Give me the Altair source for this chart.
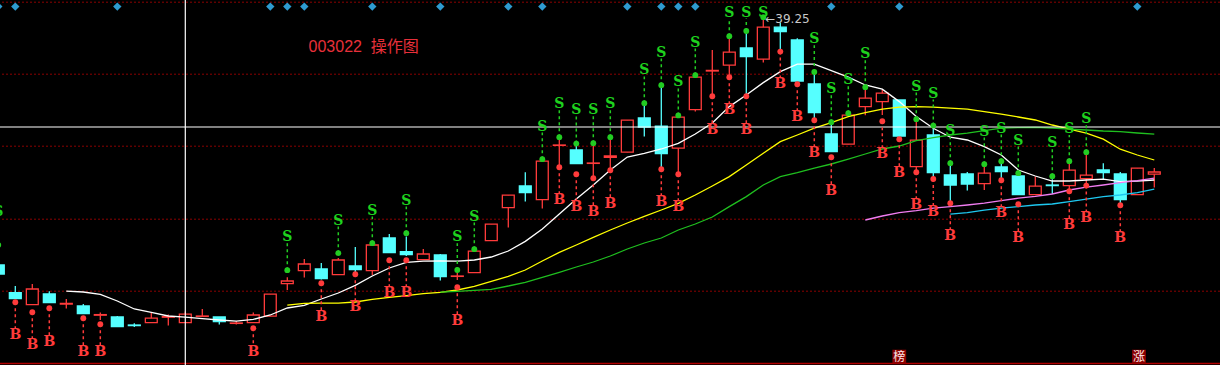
import altair as alt
import pandas as pd

# ---------------- data ----------------
IDX = list(range(-1, 68))
OPEN = [26.95, 25.57, 24.97, 25.50, 25.00, 24.90, 24.44, 24.35, 23.95, 24.07,
        24.34, 24.07, 24.38, 24.35, 24.03, 24.07, 24.39, 26.02, 26.67, 26.75,
        26.47, 26.90, 26.67, 28.30, 27.62, 27.22, 27.45, 26.38, 26.57, 28.17,
        29.82, 30.90, 30.22, 32.93, 32.70, 32.03, 32.33, 32.59, 34.30, 33.89,
        32.79, 34.72, 36.65, 36.94, 37.80, 37.24, 38.84, 38.20, 36.00, 33.50,
        32.99, 34.87, 35.12, 35.20, 31.87, 33.45, 31.45, 31.50, 31.02, 31.85,
        31.40, 30.47, 30.95, 30.92, 31.27, 31.70, 31.50, 30.47, 31.49]
HIGH = [27.10, 25.90, 26.00, 25.64, 25.25, 25.00, 24.57, 24.40, 24.04, 24.57,
        24.47, 24.62, 24.75, 24.35, 24.15, 24.57, 25.49, 26.34, 27.25, 27.05,
        27.30, 27.85, 27.95, 28.50, 28.37, 27.75, 27.50, 26.82, 27.64, 28.99,
        30.44, 31.59, 32.14, 33.20, 33.02, 32.95, 33.30, 34.19, 35.04, 35.94,
        34.34, 36.34, 37.70, 38.35, 38.65, 39.25, 39.07, 38.29, 36.60, 34.09,
        34.54, 35.84, 35.74, 35.20, 34.24, 33.92, 32.04, 31.60, 31.99, 32.14,
        31.54, 31.37, 31.24, 32.14, 32.59, 32.04, 31.60, 31.79, 31.80]
LOW = [26.40, 25.25, 24.97, 25.05, 24.77, 24.50, 24.20, 23.85, 23.85, 24.07,
       23.92, 24.07, 24.38, 23.97, 23.97, 24.07, 24.39, 25.70, 26.32, 26.23,
       26.45, 26.60, 26.45, 27.55, 27.40, 27.22, 26.17, 26.20, 26.57, 28.17,
       28.82, 30.12, 29.77, 31.95, 32.00, 31.37, 31.75, 32.59, 33.37, 31.74,
       31.49, 34.62, 35.37, 36.34, 35.39, 37.07, 37.62, 36.15, 34.20, 32.60,
       32.99, 34.44, 34.45, 33.25, 31.60, 31.25, 30.04, 30.67, 30.70, 31.19,
       30.45, 30.47, 30.50, 30.64, 30.92, 31.25, 29.94, 30.47, 30.82]
CLOSE = [26.50, 25.27, 25.75, 25.07, 25.03, 24.52, 24.47, 23.87, 23.92, 24.29,
         24.37, 24.49, 24.40, 24.12, 24.05, 24.45, 25.49, 26.15, 27.00, 26.27,
         27.20, 26.72, 27.95, 27.57, 27.47, 27.50, 26.37, 26.40, 27.64, 28.99,
         30.44, 30.57, 32.14, 32.95, 32.02, 32.05, 32.40, 34.19, 33.85, 32.52,
         34.34, 36.34, 36.68, 37.59, 37.37, 38.84, 38.62, 36.15, 34.57, 32.62,
         34.44, 35.29, 35.54, 33.40, 33.19, 31.57, 30.95, 31.00, 31.54, 31.62,
         30.47, 30.89, 30.92, 31.69, 31.44, 31.57, 30.22, 31.79, 31.60]

# Sell signals: candle index, dot price, letter price
S_IDX = [-1, 16, 19, 21, 23, 26, 27, 31, 32, 33, 34, 35, 37, 38, 39, 40, 42, 43,
         44, 47, 48, 49, 50, 53, 54, 55, 57, 58, 59, 61, 62, 63]
S_DOT = [27.95, 26.69, 27.54, 28.04, 28.54, 26.70, 27.74, 32.24, 33.34, 33.02,
         33.04, 33.34, 35.04, 35.94, 34.43, 36.44, 38.39, 38.65, 39.34, 36.60,
         34.09, 34.54, 35.84, 34.24, 33.92, 32.04, 31.99, 32.14, 31.54, 31.39,
         32.14, 32.59]
S_TXT = [29.60, 28.34, 29.17, 29.67, 30.17, 28.34, 29.37, 33.87, 34.99, 34.69,
         34.69, 34.99, 36.68, 37.57, 36.08, 38.07, 39.57, 39.57, 39.57, 38.24,
         35.74, 36.19, 37.49, 35.87, 35.52, 33.64, 33.62, 33.77, 33.17, 33.04,
         33.75, 34.24]

# Buy signals
B_IDX = [0, 1, 2, 4, 5, 14, 18, 20, 22, 23, 26, 32, 33, 34, 35, 38, 39, 41, 42,
         43, 45, 46, 47, 48, 51, 52, 53, 54, 55, 58, 59, 62, 63, 65]
B_DOT = [25.09, 24.59, 24.79, 24.29, 23.99, 23.79, 26.04, 26.49, 27.19, 27.19,
         25.84, 31.84, 31.49, 31.29, 31.69, 31.74, 31.49, 35.39, 36.34, 35.39,
         37.62, 35.99, 34.19, 32.34, 34.14, 33.24, 31.59, 31.25, 30.04, 31.19,
         29.99, 30.64, 30.92, 29.94]
B_TXT = [23.45, 22.95, 23.12, 22.62, 22.59, 22.59, 24.37, 24.84, 25.54, 25.54,
         24.17, 30.19, 29.84, 29.62, 30.02, 30.09, 29.84, 33.70, 34.68, 33.70,
         35.99, 34.34, 32.54, 30.67, 32.49, 31.57, 29.94, 29.59, 28.40, 29.54,
         28.32, 28.97, 29.29, 28.29]

# Moving-average style lines (start index, values)
WHITE_START = 3
WHITE = [25.64, 25.60, 25.48, 25.15, 24.75, 24.58, 24.40, 24.34, 24.27, 24.20,
         24.14, 24.23, 24.45, 24.80, 24.93, 25.25, 25.55, 25.93, 26.40, 26.80,
         27.08, 27.14, 27.15, 27.14, 27.20, 27.35, 27.65, 28.13, 28.75, 29.50,
         30.25, 30.95, 31.70, 32.35, 32.53, 32.75, 33.03, 33.50, 34.05, 34.87,
         35.45, 36.07, 36.62, 36.99, 36.99, 36.67, 36.34, 35.95, 35.74, 35.12,
         34.37, 33.79, 33.34, 33.20, 32.87, 32.45, 31.70, 31.40, 31.15, 31.15,
         31.20, 31.24, 31.12, 31.15, 31.20]
YELLOW_START = 16
YELLOW = [24.94, 25.03, 25.04, 25.04, 25.10, 25.23, 25.33, 25.42, 25.52, 25.58,
          25.70, 25.88, 26.13, 26.38, 26.70, 27.15, 27.58, 27.95, 28.33, 28.70,
          29.05, 29.38, 29.70, 30.03, 30.45, 30.90, 31.37, 31.95, 32.54, 33.12,
          33.45, 33.79, 34.07, 34.37, 34.57, 34.74, 34.84, 34.87, 34.84, 34.79,
          34.74, 34.62, 34.49, 34.35, 34.20, 33.95, 33.74, 33.54, 33.24, 32.74,
          32.45, 32.20]
GREEN_START = 25
GREEN = [25.59, 25.63, 25.68, 25.73, 25.90, 26.08, 26.33, 26.58, 26.85, 27.10,
         27.40, 27.75, 28.05, 28.30, 28.70, 29.00, 29.35, 29.87, 30.37, 30.95,
         31.37, 31.57, 31.79, 32.00, 32.24, 32.50, 32.75, 32.90, 33.17, 33.32,
         33.45, 33.54, 33.67, 33.79, 33.82, 33.83, 33.80, 33.74, 33.70, 33.65,
         33.62, 33.55, 33.49]
MAGENTA_START = 50
MAGENTA = [29.20, 29.40, 29.57, 29.67, 29.79, 29.87, 29.95, 30.04, 30.17, 30.29,
           30.38, 30.50, 30.70, 30.84, 30.95, 31.07, 31.17, 31.29]
CYANL_START = 55
CYANL = [29.49, 29.57, 29.69, 29.79, 29.87, 29.95, 30.00, 30.12, 30.24, 30.37,
         30.45, 30.57, 30.74]

DIAMOND_IDX = [-1, 0, 6, 15, 16, 17, 21, 25, 29, 31, 36, 38, 39, 40, 48, 52, 66]
DIAMOND_PRICE = 39.87
GRID_PRICES = [40.09, 36.49, 32.89, 29.24, 25.64]
BOTTOM_PRICE = 22.02
HLINE_PRICE = 33.85
VLINE_IDX = 10
PEAK_IDX = 44
PEAK_PRICE = 39.25
TITLE = "003022\u00a0\u00a0操作图"
TITLE_POS = (17.25, 37.85)
TAGS = ["榜", "涨"]
TAG_IDX = [52, 66.1]
TAG_PRICE = 22.37

X_DOMAIN = [-0.9, 70.865]
Y_DOMAIN = [21.95, 40.2]

RED = "#ff3b3b"
CYAN = "#55ffff"
GREENC = "#22cc22"

# ---------------- chart ----------------
xs = alt.Scale(domain=X_DOMAIN, nice=False, zero=False)
ys = alt.Scale(domain=Y_DOMAIN, nice=False, zero=False)


def X(f):
    return alt.X(f, scale=xs, axis=None)


def Y(f):
    return alt.Y(f, scale=ys, axis=None)


candles = pd.DataFrame(dict(i=IDX, o=OPEN, h=HIGH, l=LOW, c=CLOSE))
is_up = "datum.c >= datum.o"

grid = alt.Chart(pd.DataFrame(dict(p=GRID_PRICES))).mark_rule(
    color="#8c0000", strokeWidth=1, strokeDash=[2, 2]
).encode(y=Y("p:Q"))

bottom = alt.Chart(pd.DataFrame(dict(p=[BOTTOM_PRICE]))).mark_rule(
    color="#b00000", strokeWidth=1.5
).encode(y=Y("p:Q"))

wicks = alt.Chart(candles).mark_rule(strokeWidth=1.3, clip=True).encode(
    x=X("i:Q"), y=Y("l:Q"), y2="h:Q",
    color=alt.condition(is_up, alt.value(RED), alt.value(CYAN)),
)

bodies = alt.Chart(candles).transform_calculate(
    x0="datum.i - 0.35", x1="datum.i + 0.35"
).mark_rect(strokeWidth=1.3, clip=True).encode(
    x=X("x0:Q"), x2="x1:Q", y=Y("o:Q"), y2="c:Q",
    fill=alt.condition(is_up, alt.value("#000000"), alt.value(CYAN)),
    stroke=alt.condition(is_up, alt.value(RED), alt.value(CYAN)),
)

rows = []
for name, start, vals in [("w", WHITE_START, WHITE), ("y", YELLOW_START, YELLOW),
                          ("g", GREEN_START, GREEN), ("m", MAGENTA_START, MAGENTA),
                          ("c", CYANL_START, CYANL)]:
    for k, v in enumerate(vals):
        rows.append(dict(s=name, i=start + k, v=v))
ma = pd.DataFrame(rows)
lines = alt.Chart(ma).mark_line(strokeWidth=1.3, clip=True).encode(
    x=X("i:Q"), y=Y("v:Q"),
    color=alt.Color("s:N", legend=None, scale=alt.Scale(
        domain=["w", "y", "g", "m", "c"],
        range=["#ffffff", "#ffff00", "#1fbf1f", "#f07cf0", "#1ec8f0"])),
)

sdf = pd.DataFrame(dict(i=S_IDX, d=S_DOT, t=S_TXT))
bdf = pd.DataFrame(dict(i=B_IDX, d=B_DOT, t=B_TXT))

s_dash = alt.Chart(sdf).transform_calculate(e="datum.t - 0.3").mark_rule(
    color=GREENC, strokeWidth=1.5, strokeDash=[3, 3], clip=True
).encode(x=X("i:Q"), y=Y("d:Q"), y2="e:Q")
s_dot = alt.Chart(sdf).mark_circle(color=GREENC, size=34, opacity=1, clip=True).encode(
    x=X("i:Q"), y=Y("d:Q"))
s_txt = alt.Chart(sdf).mark_text(
    text="S", color="#1ed21e", font="DejaVu Serif", fontWeight="bold", fontSize=14,
    align="center", baseline="middle", clip=True
).encode(x=X("i:Q"), y=Y("t:Q"))

b_dash = alt.Chart(bdf).transform_calculate(e="datum.t + 0.3").mark_rule(
    color=RED, strokeWidth=1.5, strokeDash=[3, 3], clip=True
).encode(x=X("i:Q"), y=Y("d:Q"), y2="e:Q")
b_dot = alt.Chart(bdf).mark_circle(color=RED, size=34, opacity=1, clip=True).encode(
    x=X("i:Q"), y=Y("d:Q"))
b_txt = alt.Chart(bdf).mark_text(
    text="B", color=RED, font="DejaVu Serif", fontWeight="bold", fontSize=14,
    align="center", baseline="middle", clip=True
).encode(x=X("i:Q"), y=Y("t:Q"))

diamonds = alt.Chart(pd.DataFrame(dict(i=DIAMOND_IDX, p=DIAMOND_PRICE))).mark_point(
    shape="diamond", filled=True, size=70, color="#2e9bd0", opacity=1, clip=True
).encode(x=X("i:Q"), y=Y("p:Q"))

hline = alt.Chart(pd.DataFrame(dict(p=[HLINE_PRICE]))).mark_rule(
    color="#ffffff", strokeWidth=1.2).encode(y=Y("p:Q"))
vline = alt.Chart(pd.DataFrame(dict(i=[VLINE_IDX]))).mark_rule(
    color="#ffffff", strokeWidth=1.2).encode(x=X("i:Q"))

peak = alt.Chart(pd.DataFrame(dict(i=[PEAK_IDX], p=[PEAK_PRICE],
                                   t=["←" + f"{PEAK_PRICE:.2f}"]))).mark_text(
    color="#c8c8c8", font="DejaVu Sans", fontSize=12, align="left",
    baseline="middle", dx=2
).encode(x=X("i:Q"), y=Y("p:Q"), text="t:N")

title = alt.Chart(pd.DataFrame(dict(i=[TITLE_POS[0]], p=[TITLE_POS[1]], t=[TITLE]))).mark_text(
    color="#e8303a", font="Liberation Sans, Noto Sans CJK SC", fontSize=16,
    align="left", baseline="middle"
).encode(x=X("i:Q"), y=Y("p:Q"), text="t:N")

tagdf = pd.DataFrame(dict(i=TAG_IDX, p=TAG_PRICE, t=TAGS))
tag_bg = alt.Chart(tagdf).mark_square(size=190, color="#8b0000", opacity=1).encode(
    x=X("i:Q"), y=Y("p:Q"))
tag_txt = alt.Chart(tagdf).mark_text(
    color="#ffe8e8", font="Noto Sans CJK SC", fontSize=12, align="center",
    baseline="middle"
).encode(x=X("i:Q"), y=Y("p:Q"), text="t:N")

chart = alt.layer(
    grid, bottom, wicks, bodies, lines, hline, vline,
    s_dash, b_dash, s_dot, b_dot, s_txt, b_txt,
    diamonds, peak, title, tag_bg, tag_txt,
).properties(
    width=1220, height=365, background="#000000", padding=0,
    autosize=alt.AutoSizeParams(type="none"),
).configure_view(stroke=None)

chart.save("out.html", embed_options={"renderer": "svg", "actions": False})
